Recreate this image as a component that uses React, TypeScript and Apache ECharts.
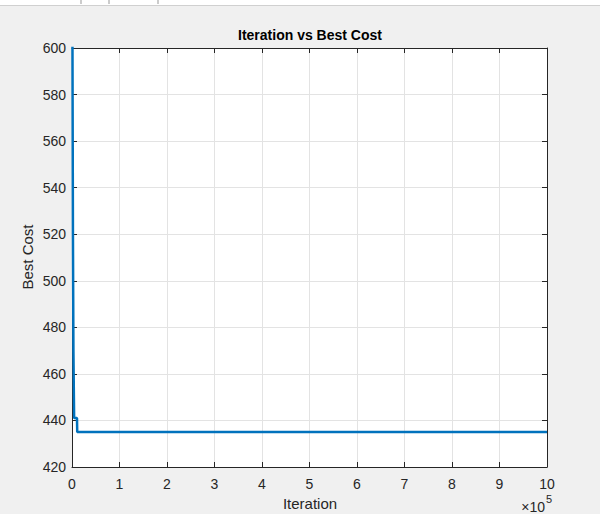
import React, { useEffect, useRef } from "react";
import * as echarts from "echarts";

const iterations = [0, 1000, 2000, 3000, 4000, 4500, 10500, 11000, 1000000];
const bestCost = [700, 600, 520, 470, 450, 441, 441, 435, 435];
const yTicks = { min: 420, max: 600, step: 20 };
const xTicks = { min: 0, max: 1000000, step: 100000 };

const FONT = "'Liberation Sans', Arial, Helvetica, sans-serif";
const AX = "#262626";

export default function App() {
  const ref = useRef<HTMLDivElement>(null);
  useEffect(() => {
    document.body.style.margin = "0";
    const chart = echarts.init(ref.current!, undefined, { renderer: "svg" });
    const data = iterations.map((x, i) => [x, bestCost[i]]);
    const tick = { show: true, inside: true, length: 5, lineStyle: { color: AX, width: 1 } };
    const axisLine = { show: true, onZero: false, lineStyle: { color: AX, width: 1 } };
    chart.setOption({
      animation: false,
      backgroundColor: "#f0f0f0",
      grid: {
        left: 72,
        right: 53,
        top: 48,
        bottom: 47,
        show: true,
        backgroundColor: "#ffffff",
        borderWidth: 0,
      },
      graphic: [
        { type: "rect", shape: { x: 0, y: 0, width: 600, height: 5 }, style: { fill: "#ffffff" } },
        { type: "line", shape: { x1: 0, y1: 5.5, x2: 600, y2: 5.5 }, style: { stroke: "#d0d0d0", lineWidth: 1 } },
        { type: "line", shape: { x1: 81, y1: 0, x2: 81, y2: 4 }, style: { stroke: "#999", lineWidth: 1 } },
        { type: "line", shape: { x1: 109, y1: 0, x2: 109, y2: 4 }, style: { stroke: "#999", lineWidth: 1 } },
        { type: "line", shape: { x1: 158, y1: 0, x2: 158, y2: 4 }, style: { stroke: "#999", lineWidth: 1 } },
        {
          type: "text",
          x: 310,
          y: 35,
          style: {
            text: "Iteration vs Best Cost",
            font: `bold 14px ${FONT}`,
            fill: "#000",
            textAlign: "center",
            textVerticalAlign: "middle",
          },
        },
        {
          type: "text",
          x: 310,
          y: 503,
          style: {
            text: "Iteration",
            font: `15px ${FONT}`,
            fill: AX,
            textAlign: "center",
            textVerticalAlign: "middle",
          },
        },
        {
          type: "text",
          x: 27,
          y: 257,
          rotation: Math.PI / 2,
          style: {
            text: "Best Cost",
            font: `15px ${FONT}`,
            fill: AX,
            textAlign: "center",
            textVerticalAlign: "middle",
          },
        },
        {
          type: "text",
          x: 545,
          y: 507,
          style: {
            text: "×10",
            font: `14px ${FONT}`,
            fill: AX,
            textAlign: "right",
            textVerticalAlign: "middle",
          },
        },
        {
          type: "text",
          x: 546,
          y: 499,
          style: {
            text: "5",
            font: `11px ${FONT}`,
            fill: AX,
            textAlign: "left",
            textVerticalAlign: "middle",
          },
        },
      ],
      xAxis: [
        {
          type: "value",
          position: "bottom",
          min: xTicks.min,
          max: xTicks.max,
          interval: xTicks.step,
          axisLine,
          axisTick: tick,
          axisLabel: {
            color: AX,
            fontSize: 14,
            fontFamily: FONT,
            margin: 10,
            formatter: (v: number) => String(Math.round(v / 1e5)),
          },
          splitLine: { show: true, lineStyle: { color: "#e3e3e3", width: 1 } },
        },
        {
          type: "value",
          position: "top",
          min: xTicks.min,
          max: xTicks.max,
          interval: xTicks.step,
          axisLine,
          axisTick: tick,
          axisLabel: { show: false },
          splitLine: { show: false },
        },
      ],
      yAxis: [
        {
          type: "value",
          position: "left",
          min: yTicks.min,
          max: yTicks.max,
          interval: yTicks.step,
          axisLine,
          axisTick: tick,
          axisLabel: { color: AX, fontSize: 14, fontFamily: FONT, margin: 6 },
          splitLine: { show: true, lineStyle: { color: "#e3e3e3", width: 1 } },
        },
        {
          type: "value",
          position: "right",
          min: yTicks.min,
          max: yTicks.max,
          interval: yTicks.step,
          axisLine,
          axisTick: tick,
          axisLabel: { show: false },
          splitLine: { show: false },
        },
      ],
      series: [
        {
          type: "line",
          data,
          xAxisIndex: 0,
          yAxisIndex: 0,
          showSymbol: false,
          clip: true,
          lineStyle: { color: "#0072BD", width: 2.5 },
          z: 1,
        },
      ],
    });
    return () => chart.dispose();
  }, []);
  return <div ref={ref} style={{ width: 600, height: 514 }} />;
}
